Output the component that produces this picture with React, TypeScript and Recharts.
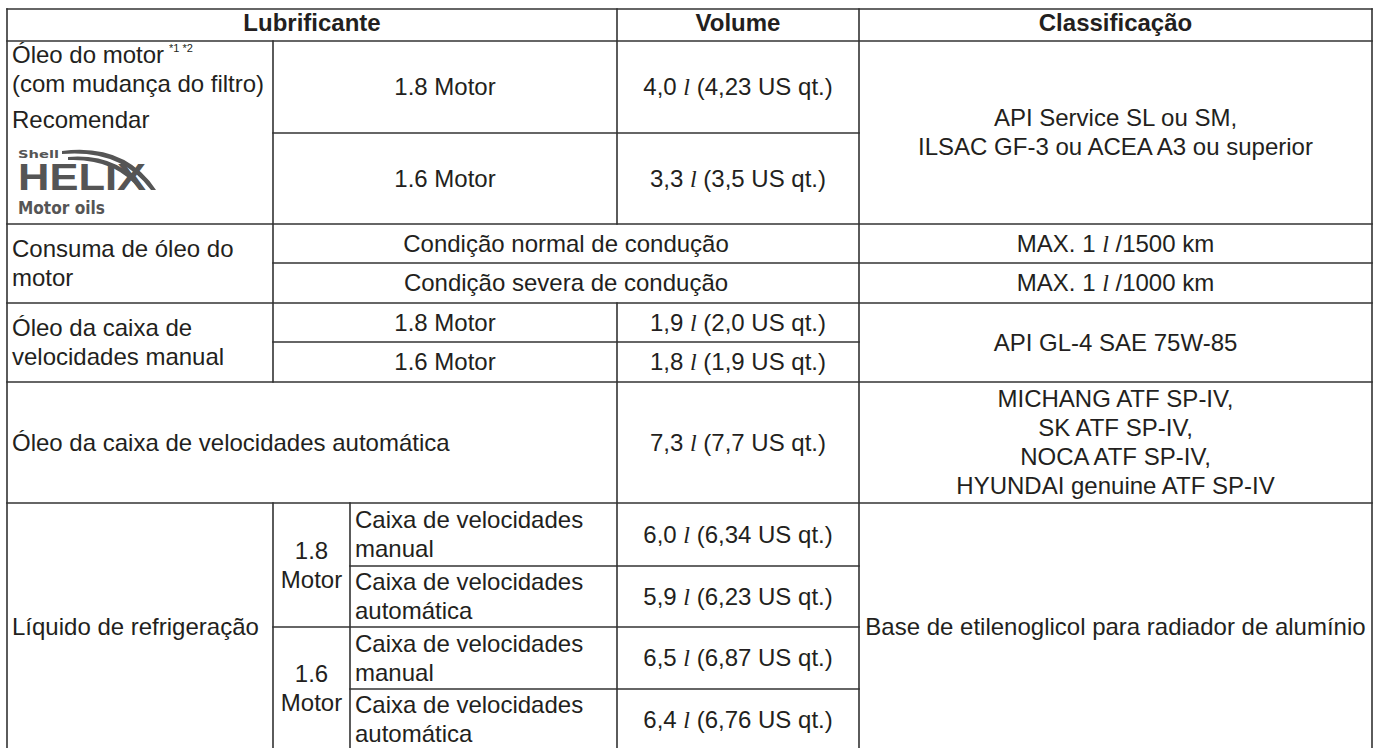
import React from 'react';
import { ScatterChart, Scatter, XAxis, YAxis, ReferenceLine } from 'recharts';

// table text
const headerLabels = ['Lubrificante', 'Volume', 'Classificação'];
const oilLabel = ['Óleo do motor', '(com mudança do filtro)', 'Recomendar'];
const oilNote = '*1 *2';
const logoText = ['Shell', 'HELIX', 'Motor oils'];
const engines = ['1.8 Motor', '1.6 Motor'];
const oilVolumes = ['4,0 l (4,23 US qt.)', '3,3 l (3,5 US qt.)'];
const oilSpec = ['API Service SL ou SM,', 'ILSAC GF-3 ou ACEA A3 ou superior'];
const consumptionLabel = ['Consuma de óleo do', 'motor'];
const drivingConditions = ['Condição normal de condução', 'Condição severa de condução'];
const consumptionLimits = ['MAX. 1 l /1500 km', 'MAX. 1 l /1000 km'];
const manualLabel = ['Óleo da caixa de', 'velocidades manual'];
const manualVolumes = ['1,9 l (2,0 US qt.)', '1,8 l (1,9 US qt.)'];
const manualSpec = ['API GL-4 SAE 75W-85'];
const atfLabel = ['Óleo da caixa de velocidades automática'];
const atfVolume = ['7,3 l (7,7 US qt.)'];
const atfSpec = ['MICHANG ATF SP-IV,', 'SK ATF SP-IV,', 'NOCA ATF SP-IV,', 'HYUNDAI genuine ATF SP-IV'];
const coolantLabel = ['Líquido de refrigeração'];
const coolantEngines = [['1.8', 'Motor'], ['1.6', 'Motor']];
const transmissions = [['Caixa de velocidades', 'manual'], ['Caixa de velocidades', 'automática']];
const coolantVolumes = ['6,0 l (6,34 US qt.)', '5,9 l (6,23 US qt.)', '6,5 l (6,87 US qt.)', '6,4 l (6,76 US qt.)'];
const coolantSpec = ['Base de etilenoglicol para radiador de alumínio'];

// grid of the table (chart units)
const colEdges = [7, 273, 350, 617, 859, 1372];
const rowEdges = [9, 41, 133, 224, 263, 303, 342, 382, 503, 566, 627, 689, 750];

const W = 1374;
const H = 748;
const FONT = '"Liberation Sans", Arial, Helvetica, sans-serif';
const INK = '#231f20';
const RULE = '#333';

type Cell = {
  c: [number, number];
  r: [number, number];
  lines: string[];
  align?: 'start' | 'middle';
  bold?: boolean;
  offsets?: number[];
  note?: string;
};

const cells: Cell[] = [
  { c: [0, 3], r: [0, 1], lines: [headerLabels[0]], bold: true },
  { c: [3, 4], r: [0, 1], lines: [headerLabels[1]], bold: true },
  { c: [4, 5], r: [0, 1], lines: [headerLabels[2]], bold: true },

  { c: [0, 1], r: [1, 3], lines: oilLabel, align: 'start', offsets: [22, 50.5, 87], note: oilNote },
  { c: [1, 3], r: [1, 2], lines: [engines[0]] },
  { c: [1, 3], r: [2, 3], lines: [engines[1]] },
  { c: [3, 4], r: [1, 2], lines: [oilVolumes[0]] },
  { c: [3, 4], r: [2, 3], lines: [oilVolumes[1]] },
  { c: [4, 5], r: [1, 3], lines: oilSpec },

  { c: [0, 1], r: [3, 5], lines: consumptionLabel, align: 'start' },
  { c: [1, 4], r: [3, 4], lines: [drivingConditions[0]] },
  { c: [1, 4], r: [4, 5], lines: [drivingConditions[1]] },
  { c: [4, 5], r: [3, 4], lines: [consumptionLimits[0]] },
  { c: [4, 5], r: [4, 5], lines: [consumptionLimits[1]] },

  { c: [0, 1], r: [5, 7], lines: manualLabel, align: 'start' },
  { c: [1, 3], r: [5, 6], lines: [engines[0]] },
  { c: [1, 3], r: [6, 7], lines: [engines[1]] },
  { c: [3, 4], r: [5, 6], lines: [manualVolumes[0]] },
  { c: [3, 4], r: [6, 7], lines: [manualVolumes[1]] },
  { c: [4, 5], r: [5, 7], lines: manualSpec },

  { c: [0, 3], r: [7, 8], lines: atfLabel, align: 'start' },
  { c: [3, 4], r: [7, 8], lines: atfVolume },
  { c: [4, 5], r: [7, 8], lines: atfSpec },

  { c: [0, 1], r: [8, 12], lines: coolantLabel, align: 'start' },
  { c: [1, 2], r: [8, 10], lines: coolantEngines[0] },
  { c: [1, 2], r: [10, 12], lines: coolantEngines[1] },
  { c: [2, 3], r: [8, 9], lines: transmissions[0], align: 'start' },
  { c: [2, 3], r: [9, 10], lines: transmissions[1], align: 'start' },
  { c: [2, 3], r: [10, 11], lines: transmissions[0], align: 'start' },
  { c: [2, 3], r: [11, 12], lines: transmissions[1], align: 'start' },
  { c: [3, 4], r: [8, 9], lines: [coolantVolumes[0]] },
  { c: [3, 4], r: [9, 10], lines: [coolantVolumes[1]] },
  { c: [3, 4], r: [10, 11], lines: [coolantVolumes[2]] },
  { c: [3, 4], r: [11, 12], lines: [coolantVolumes[3]] },
  { c: [4, 5], r: [8, 12], lines: coolantSpec },
];

// merge cell borders into unique straight runs
function buildRules() {
  const h = new Set<string>();
  const v = new Set<string>();
  cells.forEach(({ c, r }) => {
    for (let i = c[0]; i < c[1]; i++) {
      h.add(`${r[0]}:${i}`);
      h.add(`${r[1]}:${i}`);
    }
    for (let j = r[0]; j < r[1]; j++) {
      v.add(`${c[0]}:${j}`);
      v.add(`${c[1]}:${j}`);
    }
  });
  const segs: { x1: number; y1: number; x2: number; y2: number }[] = [];
  rowEdges.forEach((y, ri) => {
    let start = -1;
    for (let i = 0; i < colEdges.length; i++) {
      const on = i < colEdges.length - 1 && h.has(`${ri}:${i}`);
      if (on && start < 0) start = i;
      if (!on && start >= 0) {
        segs.push({ x1: colEdges[start], y1: y, x2: colEdges[i], y2: y });
        start = -1;
      }
    }
  });
  colEdges.forEach((x, ci) => {
    let start = -1;
    for (let j = 0; j < rowEdges.length; j++) {
      const on = j < rowEdges.length - 1 && v.has(`${ci}:${j}`);
      if (on && start < 0) start = j;
      if (!on && start >= 0) {
        segs.push({ x1: x, y1: rowEdges[start], x2: x, y2: rowEdges[j] });
        start = -1;
      }
    }
  });
  return segs;
}

type TextPoint = {
  x: number;
  y: number;
  text: string;
  anchor: 'start' | 'middle';
  bold: boolean;
  note?: string;
};

function buildText(): TextPoint[] {
  const out: TextPoint[] = [];
  const size = 24;
  cells.forEach((cell) => {
    const x0 = colEdges[cell.c[0]];
    const x1 = colEdges[cell.c[1]];
    const y0 = rowEdges[cell.r[0]];
    const y1 = rowEdges[cell.r[1]];
    const anchor = cell.align ?? 'middle';
    const x = anchor === 'middle' ? (x0 + x1) / 2 : x0 + 5;
    const n = cell.lines.length;
    cell.lines.forEach((text, i) => {
      let y: number;
      if (cell.offsets) {
        y = y0 + cell.offsets[i];
      } else {
        const lh = 29;
        y = (y0 + y1) / 2 + (i - (n - 1) / 2) * lh + size * (cell.bold ? 0.26 : 0.35);
      }
      out.push({ x, y, text, anchor, bold: !!cell.bold, note: i === 0 ? cell.note : undefined });
    });
  });
  return out;
}

const rules = buildRules();
const textPoints = buildText();
const logoPoint = [{ x: colEdges[0] + 8, y: rowEdges[1] + 109 }];

function renderLine(line: string) {
  const parts = line.split(' l ');
  if (parts.length === 1) return line;
  const nodes: React.ReactNode[] = [];
  parts.forEach((p, i) => {
    if (i === 0) {
      nodes.push(p + ' ');
    } else {
      nodes.push(
        <tspan key={`l${i}`} fontFamily='"Liberation Serif", "DejaVu Serif", serif' fontStyle="italic" fontWeight={400}>
          l
        </tspan>
      );
      nodes.push(' ' + p);
    }
  });
  return nodes;
}

const TextShape = (props: any) => {
  const { cx, cy, payload } = props;
  return (
    <text
      x={cx}
      y={cy}
      textAnchor={payload.anchor}
      fontFamily={FONT}
      fontSize={24}
      fontWeight={payload.bold ? 700 : 400}
      fill={INK}
      style={{ whiteSpace: 'pre' }}
    >
      {renderLine(payload.text)}
      {payload.note ? (
        <tspan fontSize={11} dx={5} dy={-11}>
          {payload.note}
        </tspan>
      ) : null}
    </text>
  );
};

const LogoShape = (props: any) => {
  const { cx, cy } = props;
  const grey = '#555';
  return (
    <g transform={`translate(${cx},${cy})`} fill={grey}>
      <text x={3} y={8} fontFamily='"DejaVu Sans", sans-serif' fontWeight={700} fontSize={10} textLength={41} lengthAdjust="spacingAndGlyphs">
        {logoText[0]}
      </text>
      <path d="M47 1 Q110 -7 141 40 L136 40 Q106 -1 47 4 Z" />
      <path d="M53 7 Q104 3 130 40 L125 40 Q100 8 53 10 Z" />
      <text x={3} y={40} fontFamily='"Liberation Sans", Arial, sans-serif' fontWeight={700} fontSize={37} textLength={128} lengthAdjust="spacingAndGlyphs">
        {logoText[1]}
      </text>
      <text x={3} y={64} fontFamily='"DejaVu Sans", sans-serif' fontWeight={700} fontSize={17} textLength={87} lengthAdjust="spacingAndGlyphs">
        {logoText[2]}
      </text>
    </g>
  );
};

export default function App() {
  return (
    <div style={{ position: 'absolute', left: 0, top: 0, background: '#fff' }}>
      <ScatterChart width={W} height={H} margin={{ top: 0, right: 0, bottom: 0, left: 0 }}>
        <XAxis type="number" dataKey="x" domain={[0, W]} allowDataOverflow hide />
        <YAxis type="number" dataKey="y" domain={[0, H]} allowDataOverflow reversed hide />
        {rules.map((s, i) => (
          <ReferenceLine
            key={i}
            segment={[
              { x: s.x1, y: s.y1 },
              { x: s.x2, y: s.y2 },
            ]}
            stroke={RULE}
            strokeWidth={1.6}
            strokeLinecap="square"
            ifOverflow="hidden"
          />
        ))}
        <Scatter data={textPoints} shape={TextShape} isAnimationActive={false} />
        <Scatter data={logoPoint} shape={LogoShape} isAnimationActive={false} />
      </ScatterChart>
    </div>
  );
}
